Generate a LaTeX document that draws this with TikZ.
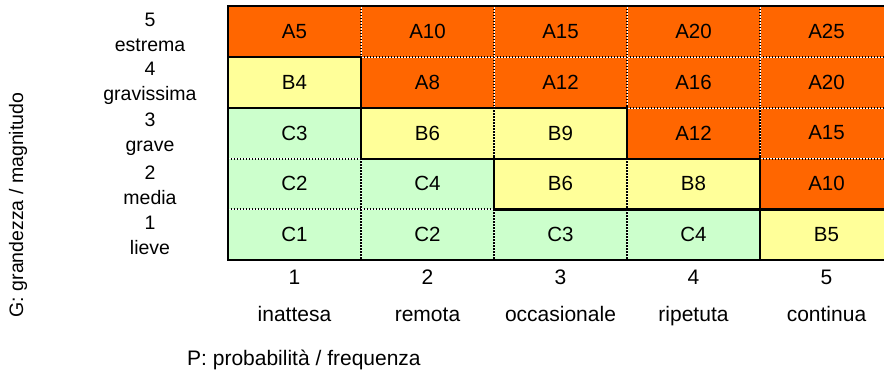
\documentclass[tikz,border=0pt]{standalone}
\usepackage{fontspec}
\setmainfont{Liberation Sans}
\definecolor{hi}{HTML}{FF6600}
\definecolor{mid}{HTML}{FFFF99}
\definecolor{lo}{HTML}{CCFFCC}
\begin{document}
\begin{tikzpicture}[x=1pt,y=-1pt,
  font=\fontsize{20.5}{24}\selectfont,
  cell/.style={minimum width=133pt,minimum height=50.8pt,inner sep=0pt,anchor=center},
  solidline/.style={line width=2.2pt,line cap=rect,black},
  dotline/.style={line width=2pt,black,dash pattern=on 1.5pt off 1.5pt,preaction={draw=white,solid}},
  rowlab/.style={align=center,font=\fontsize{19.5}{25}\selectfont},
  collab/.style={font=\fontsize{21}{24}\selectfont,anchor=base,inner sep=0pt},
  axislab/.style={font=\fontsize{19.5}{22}\selectfont}]
\clip (0,0) rectangle (884,373);
\fill[white] (0,0) rectangle (884,373);
% cells: col/row/text/colour
\foreach \c/\r/\t/\f in {
  1/5/A5/hi,2/5/A10/hi,3/5/A15/hi,4/5/A20/hi,5/5/A25/hi,
  1/4/B4/mid,2/4/A8/hi,3/4/A12/hi,4/4/A16/hi,5/4/A20/hi,
  1/3/C3/lo,2/3/B6/mid,3/3/B9/mid,4/3/A12/hi,5/3/A15/hi,
  1/2/C2/lo,2/2/C4/lo,3/2/B6/mid,4/2/B8/mid,5/2/A10/hi,
  1/1/C1/lo,2/1/C2/lo,3/1/C3/lo,4/1/C4/lo,5/1/B5/mid}{
  \node[cell,fill=\f] (c\c r\r) at ({228+133*(\c-1)+66.5},{6+50.8*(5-\r)+25.4}) {\t};
}
% dotted separators
\foreach \c/\r in {2/5,3/5,4/5,5/5,4/4,5/4,1/3,5/3,1/2,2/2}
  \draw[dotline] (c\c r\r.south west) -- (c\c r\r.south east);
\foreach \c/\r in {1/5,2/5,3/5,4/5,2/4,3/4,4/4,2/3,4/3,1/2,3/2,1/1,2/1,3/1}
  \draw[dotline] (c\c r\r.north east) -- (c\c r\r.south east);
% solid separators
\foreach \c/\r in {1/5,1/4,2/4,3/4,2/3,3/3,4/3,3/2,4/2,5/2}
  \draw[solidline] (c\c r\r.south west) -- (c\c r\r.south east);
\foreach \c/\r in {1/4,1/3,3/3,2/2,4/2,4/1}
  \draw[solidline] (c\c r\r.north east) -- (c\c r\r.south east);
% frame
\draw[solidline] (c5r5.north east) -- (c1r5.north west) -- (c1r1.south west) -- (c5r1.south east);
% row labels
\node[rowlab] (g5) at (150,{7+25.4}) {5\\estrema};
\node[rowlab] (g4) at (150,{7+50.8+25.4}) {4\\gravissima};
\node[rowlab] (g3) at (150,{7+2*50.8+25.4}) {3\\grave};
\node[rowlab] (g2) at (150,{7+3*50.8+25.4}) {2\\media};
\node[rowlab] (g1) at (150,{7+4*50.8+25.4}) {1\\lieve};
% column labels
\foreach \c/\t in {1/inattesa,2/remota,3/occasionale,4/ripetuta,5/continua}{
  \node[collab] (n\c) at ({228+133*(\c-1)+66.5},284) {\c};
  \node[collab] (p\c) at ({228+133*(\c-1)+66.5},321) {\t};
}
% axis titles
\node[axislab,rotate=90] (gax) at (18,205) {G: grandezza / magnitudo};
\node[collab,anchor=base west] (pax) at (187,365) {P: probabilità / frequenza};
\end{tikzpicture}
\end{document}
